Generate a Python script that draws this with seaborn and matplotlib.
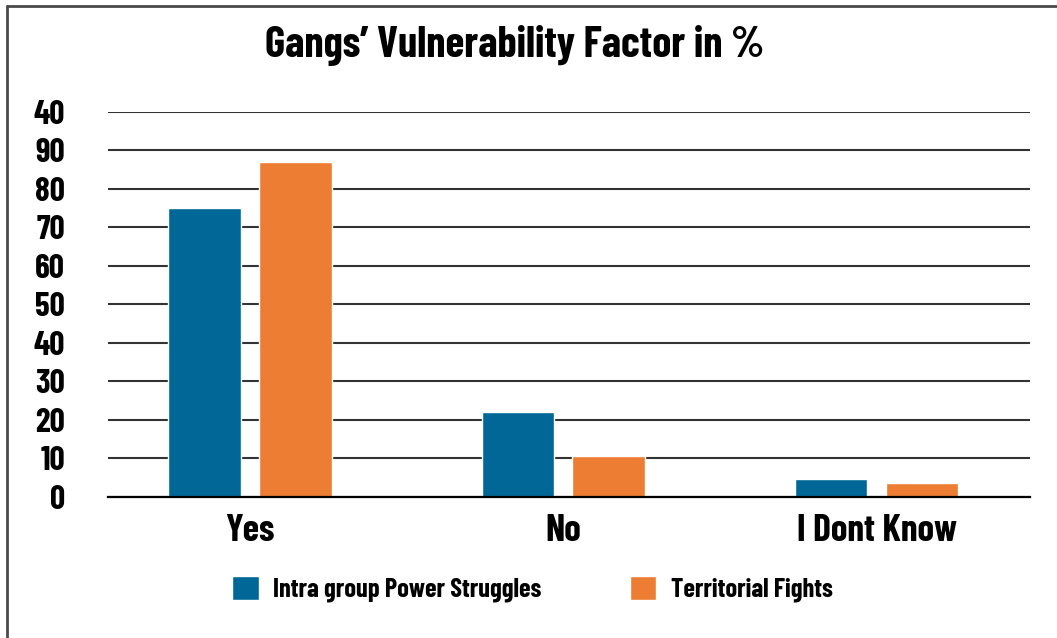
import matplotlib
matplotlib.use("Agg")
import matplotlib.pyplot as plt
import seaborn as sns
import pandas as pd

# Survey answers and shares (%) per factor
categories = ["Yes", "No", "I Dont Know"]
series_names = ["Intra group Power Struggles", "Territorial Fights"]
intra_group = [75, 22, 4.6]
territorial = [87, 10.6, 3.6]
ytick_values = [0, 10, 20, 30, 40, 50, 60, 70, 80, 90, 100]
ytick_labels = ["0", "10", "20", "30", "40", "50", "60", "70", "80", "90", "40"]
title_text = "Gangs\u2019 Vulnerability Factor in %"

palette = {series_names[0]: "#006797", series_names[1]: "#EC7D32"}

df = pd.DataFrame({
    "answer": categories * 2,
    "factor": [series_names[0]] * 3 + [series_names[1]] * 3,
    "value": intra_group + territorial,
})

sns.set_theme(style="white")
plt.rcParams["font.family"] = ["Barlow Condensed", "DejaVu Sans"]
plt.rcParams["font.weight"] = "bold"
plt.rcParams["text.color"] = "black"
plt.rcParams["xtick.color"] = "black"
plt.rcParams["ytick.color"] = "black"

fig = plt.figure(figsize=(10.57, 6.38), dpi=100)
ax = fig.add_axes([0.102, 0.221, 0.8725, 0.6035])

sns.barplot(data=df, x="answer", y="value", hue="factor", order=categories,
            hue_order=series_names, palette=palette, width=0.58, gap=0.2,
            saturation=1, ax=ax, legend=True)

ax.set_ylim(0, 100)
ax.set_xlim(-0.454, 2.49)
ax.set_yticks(ytick_values)
ax.set_yticklabels(ytick_labels, fontsize=24, fontweight="bold")
ax.tick_params(axis="y", length=0, pad=31)
ax.tick_params(axis="x", length=0, pad=12, labelsize=27)
for lbl in ax.get_xticklabels():
    lbl.set_fontweight("bold")
ax.set_xlabel("")
ax.set_ylabel("")
ax.set_axisbelow(True)
ax.yaxis.grid(True, color="#333333", linewidth=1.5)
for s in ["left", "right", "top"]:
    ax.spines[s].set_visible(False)
ax.spines["bottom"].set_color("black")
ax.spines["bottom"].set_linewidth(1.6)

handles, labels = ax.get_legend_handles_labels()
ax.get_legend().remove()
fig.legend(handles, labels, loc="center left", bbox_to_anchor=(0.1974, 0.0765),
           ncol=2, frameon=False, prop={"size": 19, "weight": "bold"},
           handlelength=1.0, handleheight=1.0, handletextpad=0.55,
           columnspacing=3.35)

fig.text(0.487, 0.928, title_text, ha="center", va="center",
         fontsize=31, fontweight="bold")

# frame along the left and top edges of the figure
fig.add_artist(plt.Line2D([0.0066, 0.0066], [0.0, 0.9906], color="#4a4a4a",
                          linewidth=2, transform=fig.transFigure))
fig.add_artist(plt.Line2D([0.0066, 1.0], [0.9906, 0.9906], color="#4a4a4a",
                          linewidth=2, transform=fig.transFigure))

fig.savefig("out.png", dpi=100)
